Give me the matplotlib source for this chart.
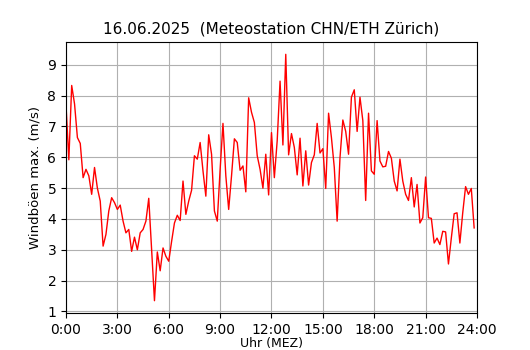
import numpy as np
import matplotlib.pyplot as plt

title = "16.06.2025  (Meteostation CHN/ETH Zürich)"
tick_hours = [0, 3, 6, 9, 12, 15, 18, 21, 24]
tick_labels = ["0:00", "3:00", "6:00", "9:00", "12:00", "15:00", "18:00", "21:00", "24:00"]

# 10-minute maximum gusts (m/s), 00:00 .. 23:50
gusts = [
    7.70, 5.92, 8.33, 7.73, 6.64, 6.45, 5.34, 5.61, 5.40, 4.80, 5.67, 5.00,
    4.58, 3.12, 3.50, 4.26, 4.69, 4.53, 4.31, 4.45, 3.93, 3.55, 3.66, 2.95,
    3.41, 3.00, 3.55, 3.66, 3.93, 4.67, 3.00, 1.35, 2.93, 2.32, 3.06, 2.79,
    2.63, 3.27, 3.87, 4.12, 3.95, 5.23, 4.15, 4.58, 4.93, 6.05, 5.94, 6.48,
    5.56, 4.74, 6.73, 6.10, 4.26, 3.93, 5.60, 7.10, 5.40, 4.31, 5.40, 6.60,
    6.48, 5.58, 5.72, 4.88, 7.93, 7.46, 7.13, 6.05, 5.61, 5.00, 6.10, 4.78,
    6.80, 5.34, 6.54, 8.47, 6.40, 9.34, 6.08, 6.77, 6.32, 5.43, 6.62, 5.07,
    6.21, 5.10, 5.83, 6.08, 7.10, 6.14, 6.28, 4.99, 7.43, 6.64, 5.67, 3.93,
    5.99, 7.21, 6.84, 6.10, 7.95, 8.19, 6.84, 7.95, 7.19, 4.60, 7.43, 5.56,
    5.45, 7.19, 5.88, 5.69, 5.71, 6.19, 5.97, 5.23, 4.91, 5.94, 5.23, 4.80,
    4.60, 5.34, 4.39, 5.12, 3.87, 4.04, 5.36, 4.04, 4.02, 3.22, 3.38, 3.17,
    3.60, 3.58, 2.54, 3.38, 4.17, 4.20, 3.22, 4.20, 5.05, 4.80, 4.99, 3.71,
]

hours = np.arange(len(gusts)) / 6.0

fig = plt.figure(figsize=(5.3, 3.5), dpi=100)
ax = fig.add_axes([0.1245, 0.1057, 0.7755, 0.7743])
ax.plot(hours, gusts, color="red", linewidth=1)
ax.set_xlim(0, 24)
ax.set_xticks(tick_hours)
ax.set_xticklabels(tick_labels)
ax.grid(True, color="#b0b0b0")
ax.set_xlabel("Uhr (MEZ)", fontsize=9, labelpad=0)
ax.set_ylabel("Windböen max. (m/s)", fontsize=9.5)
ax.set_title(title, fontsize=11)

fig.savefig("out.png", dpi=100)
